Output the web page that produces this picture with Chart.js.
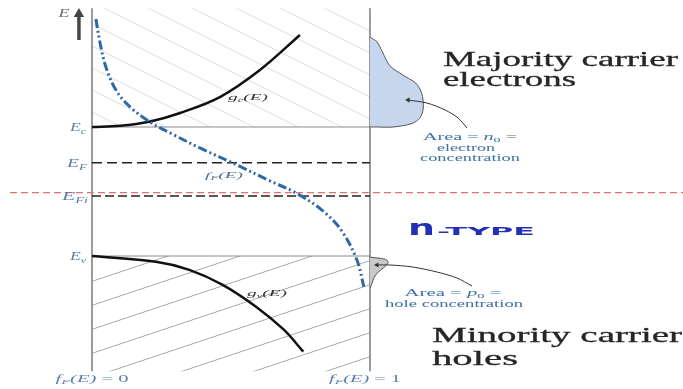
<!DOCTYPE html>
<html lang="en">
<head>
<meta charset="utf-8">
<title>n-type semiconductor: g(E) and Fermi function</title>
<script src="https://cdn.jsdelivr.net/npm/chart.js@4.4.1/dist/chart.umd.min.js"></script>
<style>
  body { margin: 0; background: #fff; }
  .wrap { position: relative; width: 683px; height: 389px; }
</style>
</head>
<body>
<div class="wrap"><canvas id="bands"></canvas></div>
<script>
// energy levels in eV, measured from the valence band edge
const Ev = 0, Ec = 1.12, EF = 0.81, EFi = 0.52, Emid = 0.55;
const Etop = 2.15, Ebot = -1.0;

// density of states, x in units of the f = 0..1 frame width
const gcX = [0, 0.101, 0.209, 0.317, 0.460, 0.604, 0.748];
const gcE = [1.12, 1.130, 1.168, 1.242, 1.380, 1.615, 1.919];
const gvX = [0, 0.23, 0.35, 0.47, 0.59, 0.69, 0.76];
const gvE = [0, -0.05, -0.12, -0.25, -0.44, -0.64, -0.83];

// Fermi-Dirac occupation probability
const fE   = [2.058, 1.849, 1.641, 1.441, 1.294, 1.163, 1.051, 0.938, 0.790, 0.660, 0.547, 0.399, 0.226, -0.035, -0.269];
const fVal = [0.014, 0.029, 0.050, 0.086, 0.137, 0.209, 0.295, 0.388, 0.522, 0.633, 0.734, 0.827, 0.896, 0.953, 0.978];

// carrier distributions n(E) and p(E), drawn to the right of f = 1
const nX = [1.0, 1.025, 1.045, 1.072, 1.119, 1.165, 1.185, 1.191, 1.191, 1.180, 1.151, 1.083, 1.025, 1.0];
const nE = [1.90, 1.86, 1.77, 1.65, 1.57, 1.50, 1.42, 1.35, 1.27, 1.20, 1.15, 1.12, 1.12, 1.12];
const pX = [1.0, 1.036, 1.061, 1.065, 1.050, 1.029, 1.014, 1.007, 1.0];
const pE = [-0.01, -0.02, -0.035, -0.06, -0.10, -0.14, -0.19, -0.24, -0.28];

// leader arrows to the area captions
const nArrowX = [1.137, 1.205, 1.270, 1.317, 1.349];
const nArrowE = [1.354, 1.328, 1.268, 1.198, 1.111];
const pArrowX = [1.025, 1.072, 1.155, 1.241, 1.313, 1.367];
const pArrowE = [-0.078, -0.078, -0.096, -0.139, -0.191, -0.260];

const pts = (xs, ys) => xs.map((x, i) => ({ x, y: ys[i] }));

function hatch(w, h, color, rising) {
  const c = document.createElement('canvas');
  c.width = w; c.height = h;
  const g = c.getContext('2d');
  g.strokeStyle = color;
  g.lineWidth = 1;
  for (let k = -1; k <= 1; k++) {
    g.beginPath();
    if (rising) { g.moveTo(0, h + k * h); g.lineTo(w, k * h); }
    else { g.moveTo(0, k * h); g.lineTo(w, h + k * h); }
    g.stroke();
  }
  return g.createPattern(c, 'repeat');
}

function line(data, color, width, order, extra) {
  return Object.assign({
    data, showLine: true, borderColor: color, borderWidth: width,
    pointRadius: 0, fill: false, tension: 0, order
  }, extra || {});
}

const datasets = [
  // hatched bands
  line(pts([0, 1], [Etop, Etop]), 'rgba(0,0,0,0)', 0, 20,
       { fill: { value: Ec }, backgroundColor: hatch(44, 22, '#dedede', false) }),
  line(pts([0, 1], [Ev, Ev]), 'rgba(0,0,0,0)', 0, 20,
       { fill: { value: Ebot }, backgroundColor: hatch(72, 24, '#ababab', true) }),
  // frame
  line(pts([0, 0], [Ebot, Etop]), '#7a7a7a', 1.5, 15),
  line(pts([1, 1], [Ebot, Etop]), '#7a7a7a', 1.5, 15),
  line(pts([0, 1], [Ec, Ec]), '#8a8a8a', 1, 15),
  line(pts([0, 1], [Ev, Ev]), '#8a8a8a', 1, 15),
  // Fermi levels
  line(pts([0, 1], [EF, EF]), '#222', 1.5, 14, { borderDash: [10, 5] }),
  line(pts([0, 1], [EFi, EFi]), '#222', 1.5, 14, { borderDash: [9, 4] }),
  line(pts([-0.295, 2.13], [Emid, Emid]), '#e27272', 1.2, 13, { borderDash: [7, 4] }),
  // carrier areas
  line(pts(nX, nE), '#555', 1, 12, { fill: 'shape', backgroundColor: '#c6d6ec', tension: 0.3 }),
  line(pts(pX, pE), '#555', 1, 12, { fill: 'shape', backgroundColor: '#c9c9c9', tension: 0.3 }),
  // leaders
  line(pts(nArrowX, nArrowE), '#333', 1, 11, {
    tension: 0.3, pointRadius: nArrowX.map((_, i) => i === 0 ? 3 : 0),
    pointStyle: 'triangle', rotation: 275, pointBackgroundColor: '#333', pointBorderWidth: 0
  }),
  line(pts(pArrowX, pArrowE), '#333', 1, 11, {
    tension: 0.3, pointRadius: pArrowX.map((_, i) => i === 0 ? 3 : 0),
    pointStyle: 'triangle', rotation: 270, pointBackgroundColor: '#333', pointBorderWidth: 0
  }),
  // energy axis arrow
  line(pts([-0.047, -0.047], [1.875, 2.10]), '#454545', 3.5, 10, {
    pointRadius: [0, 6], pointStyle: 'triangle', rotation: 0,
    pointBackgroundColor: '#454545', pointBorderWidth: 0
  }),
  // g_c(E), g_v(E)
  line(pts(gcX, gcE), '#111', 2.5, 5, { tension: 0.35 }),
  line(pts(gvX, gvE), '#111', 2.5, 5, { tension: 0.35 }),
  // f_F(E)
  line(pts(fVal, fE), '#2e69a6', 3, 1, { tension: 0.35, borderDash: [9, 3, 2, 3, 2, 3] })
];

// text squeezed or stretched to a set width; parts are [text, font, dy]
function rich(ctx, parts, x, y, w, align, color, weight) {
  ctx.save();
  let total = 0;
  parts.forEach(p => { ctx.font = p[1]; total += ctx.measureText(p[0]).width; });
  const sx = w / total;
  const x0 = align === 'center' ? x - w / 2 : align === 'right' ? x - w : x;
  ctx.translate(x0, y);
  ctx.scale(sx, 1);
  ctx.fillStyle = color;
  ctx.strokeStyle = color;
  ctx.lineWidth = weight || 0;
  ctx.textBaseline = 'alphabetic';
  ctx.textAlign = 'left';
  let cx = 0;
  parts.forEach(p => {
    ctx.font = p[1];
    ctx.fillText(p[0], cx, p[2] || 0);
    if (weight) ctx.strokeText(p[0], cx, p[2] || 0);
    cx += ctx.measureText(p[0]).width;
  });
  ctx.restore();
}

const SERIF = 'Liberation Serif';
const it = s => 'italic ' + s + 'px "' + SERIF + '"';
const rm = s => s + 'px "' + SERIF + '"';

const labels = {
  id: 'labels',
  afterDraw(chart) {
    const ctx = chart.ctx;
    const ys = chart.scales.y;
    const levelCol = '#5b7ea6';

    rich(ctx, [['E', it(12)]], 64, 17, 11, 'center', '#6a6a6a');
    rich(ctx, [['E', it(12)], ['c', it(8), 3]], 86, ys.getPixelForValue(Ec) + 4, 16, 'right', levelCol);
    rich(ctx, [['E', it(12)], ['F', it(8), 3]], 87, ys.getPixelForValue(EF) + 4, 20, 'right', levelCol);
    rich(ctx, [['E', it(12)], ['Fi', it(8), 3]], 88, ys.getPixelForValue(EFi) + 4, 26, 'right', levelCol);
    rich(ctx, [['E', it(12)], ['v', it(8), 3]], 86, ys.getPixelForValue(Ev) + 4, 16, 'right', levelCol);

    rich(ctx, [['g', it(9)], ['c', it(6), 2], ['(E)', it(9)]], 228, 100, 40, 'left', '#333');
    rich(ctx, [['f', it(9)], ['F', it(6), 2], ['(E)', it(9)]], 205, 178, 38, 'left', '#4e6f93');
    rich(ctx, [['g', it(9)], ['v', it(6), 2], ['(E)', it(9)]], 247, 296, 40, 'left', '#333');

    const fcol = '#5a80aa';
    rich(ctx, [['f', it(10)], ['F', it(7), 2], ['(E)', it(10)], [' = 0', rm(10)]], 92, 382, 73, 'center', fcol);
    rich(ctx, [['f', it(10)], ['F', it(7), 2], ['(E)', it(10)], [' = 1', rm(10)]], 365, 382, 72, 'center', fcol);

    const acol = '#3f6fa6';
    rich(ctx, [['Area = ', rm(10)], ['n', it(10)], ['0', rm(7), 2], [' =', rm(10)]], 470, 140, 94, 'center', acol);
    rich(ctx, [['electron', rm(10)]], 466, 151, 58, 'center', acol);
    rich(ctx, [['concentration', rm(10)]], 470, 161, 100, 'center', acol);
    rich(ctx, [['Area = ', rm(10)], ['p', it(10)], ['0', rm(7), 2], [' =', rm(10)]], 453, 296, 97, 'center', acol);
    rich(ctx, [['hole concentration', rm(10)]], 454, 307, 138, 'center', acol);

    const big = '#262626';
    rich(ctx, [['Majority carrier', rm(21)]], 443, 66, 235, 'left', big, 0.3);
    rich(ctx, [['electrons', rm(21)]], 443, 86, 133, 'left', big, 0.3);
    rich(ctx, [['Minority carrier', rm(21)]], 432, 342, 250, 'left', big, 0.3);
    rich(ctx, [['holes', rm(21)]], 432, 365, 86, 'left', big, 0.3);

    const tcol = '#2230b8';
    rich(ctx, [['n', 'bold 22px "DejaVu Sans"']], 408, 235, 27, 'left', tcol);
    rich(ctx, [['-TYPE', 'bold 11px "DejaVu Sans"']], 437, 235, 98, 'left', tcol);
  }
};

new Chart(document.getElementById('bands'), {
  type: 'scatter',
  data: { datasets },
  options: {
    responsive: true,
    maintainAspectRatio: false,
    animation: false,
    layout: { padding: 0, autoPadding: false },
    plugins: { legend: { display: false }, tooltip: { enabled: false } },
    scales: {
      x: { type: 'linear', min: -0.3309, max: 2.1259, display: false },
      y: { type: 'linear', min: -1.1547, max: 2.2226, display: false }
    }
  },
  plugins: [labels]
});
</script>
</body>
</html>
